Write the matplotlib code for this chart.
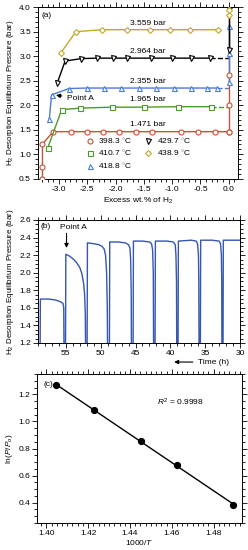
import numpy as np
import matplotlib.pyplot as plt
from matplotlib.ticker import MultipleLocator
from matplotlib.lines import Line2D

plt.rcParams['font.family'] = ['Liberation Sans', 'DejaVu Sans']
plt.rcParams['font.size'] = 6
plt.rcParams['mathtext.fontset'] = 'custom'
plt.rcParams['mathtext.rm'] = 'Liberation Sans'
plt.rcParams['mathtext.it'] = 'Liberation Sans:italic'

# ---- panel (a): isotherms ----
temps = ['398.3', '410.7', '418.8', '429.7', '438.9']
plateau_bar = ['1.471', '1.965', '2.355', '2.964', '3.559']

x_398 = [-3.29, -3.29, -3.29, -3.10, -2.79, -2.51, -2.22, -1.93, -1.63, -1.35, -0.84, -0.54, -0.25, 0.0]
y_398 = [0.50, 0.73, 1.21, 1.46, 1.46, 1.46, 1.46, 1.46, 1.46, 1.46, 1.46, 1.46, 1.46, 1.46]
x_410 = [-3.20, -2.95, -2.62, -2.07, -1.50, -0.90, -0.31]
y_410 = [1.12, 1.91, 1.94, 1.96, 1.96, 1.97, 1.97]
x_418 = [-3.17, -3.13, -2.82, -2.51, -2.21, -1.90, -1.59, -1.28, -0.97, -0.66, -0.38, -0.21]
y_418 = [1.71, 2.21, 2.34, 2.35, 2.35, 2.35, 2.35, 2.35, 2.35, 2.35, 2.35, 2.35]
x_429 = [-3.03, -2.89, -2.61, -2.33, -2.04, -1.79, -1.38, -1.00, -0.66, -0.33]
y_429 = [2.45, 2.90, 2.95, 2.96, 2.96, 2.96, 2.96, 2.96, 2.96, 2.96]
x_438 = [-2.97, -2.70, -2.24, -1.79, -1.39, -1.03, -0.68, -0.19]
y_438 = [3.06, 3.50, 3.54, 3.54, 3.54, 3.54, 3.54, 3.54]

# points at saturation (x = 0)
y0_398 = [1.46, 2.00, 2.62]
y0_418 = [2.47, 3.06, 3.62]
y0_429 = [3.13, 3.97]
y0_438 = [3.85, 3.95]

# ---- panel (b): pressure vs time ----
t_b = [58.7, 58.65, 57.5, 56.5, 55.8, 55.4, 55.3, 55.25,
       55.05, 55.0, 54.5, 54.0, 53.5, 53.0, 52.7, 52.45, 52.3, 52.2, 52.15,
       51.95, 51.9, 51.0, 50.3, 49.8, 49.5, 49.3, 49.15, 49.05, 49.0,
       48.75, 48.7, 47.5, 46.5, 46.0, 45.8, 45.7, 45.62, 45.58,
       45.35, 45.3, 44.0, 43.0, 42.7, 42.55, 42.45, 42.4,
       42.2, 42.15, 40.5, 39.6, 39.3, 39.2, 39.12, 39.08,
       38.9, 38.85, 37.0, 36.3, 36.1, 35.97, 35.92, 35.88,
       35.7, 35.65, 34.0, 33.0, 32.8, 32.68, 32.63, 32.6,
       32.45, 32.4, 31.0, 30.0]
p_b = [1.0, 1.70, 1.70, 1.69, 1.67, 1.65, 1.60, 1.0,
       1.0, 2.21, 2.19, 2.16, 2.12, 2.06, 1.99, 1.88, 1.75, 1.50, 1.0,
       1.0, 2.34, 2.33, 2.32, 2.30, 2.27, 2.20, 2.00, 1.60, 1.0,
       1.0, 2.35, 2.35, 2.34, 2.32, 2.28, 2.15, 1.80, 1.0,
       1.0, 2.36, 2.36, 2.35, 2.33, 2.26, 2.00, 1.0,
       1.0, 2.36, 2.36, 2.35, 2.32, 2.20, 1.90, 1.0,
       1.0, 2.36, 2.37, 2.36, 2.33, 2.20, 1.90, 1.0,
       1.0, 2.37, 2.37, 2.36, 2.33, 2.20, 1.90, 1.0,
       1.0, 2.37, 2.37, 2.37]

# ---- panel (c): van 't Hoff ----
inv_T = [1.4044, 1.4228, 1.4452, 1.4623, 1.4893]
ln_p = [1.2695, 1.0866, 0.8565, 0.6755, 0.3859]

c_398 = '#c2553a'
c_410 = '#4e9a2a'
c_418 = '#4a7fd0'
c_429 = 'black'
c_438 = '#c4a82c'


def style_axes(ax):
    ax.tick_params(which='both', direction='out', top=True, right=True, labelsize=6, width=0.6, pad=1.5)
    ax.tick_params(which='major', length=3.5)
    ax.tick_params(which='minor', length=2)
    for s in ax.spines.values():
        s.set_linewidth(0.7)


fig = plt.figure(figsize=(2.48, 5.5), dpi=100)

# (a)
ax = fig.add_axes([0.153, 0.675, 0.806, 0.312])
series = [(x_398, y_398, c_398, 'o'), (x_410, y_410, c_410, 's'), (x_418, y_418, c_418, '^'),
          (x_429, y_429, c_429, 'v'), (x_438, y_438, c_438, 'D')]
for xs, ys, col, mk in series:
    ax.plot(xs, ys, '-', color=col, lw=1.0, marker=mk, ms=3.6 if mk != 'D' else 3.0,
            mfc='white', mec=col, mew=0.8, zorder=3)
# dashed extensions to x = 0
ax.plot([x_410[-1], 0], [y_410[-1], y_410[-1]], '--', color=c_410, lw=1.0, zorder=2)
ax.plot([x_418[-1], 0], [y_418[-1], y_418[-1]], '--', color=c_418, lw=1.0, zorder=2)
ax.plot([x_429[-1], 0], [y_429[-1], y_429[-1]], '--', color=c_429, lw=1.0, zorder=2)
# saturation points
ax.plot(np.zeros(len(y0_418)), y0_418, '-', color=c_418, lw=1.0, marker='^', ms=3.6, mfc='white', mec=c_418, mew=0.8, zorder=3)
ax.plot(np.zeros(len(y0_429)), y0_429, '-', color=c_429, lw=1.0, marker='v', ms=3.6, mfc='white', mec=c_429, mew=0.8, zorder=3)
ax.plot(np.zeros(len(y0_438)), y0_438, '-', color=c_438, lw=1.0, marker='D', ms=3.0, mfc='white', mec=c_438, mew=0.8, zorder=3)
ax.plot([0, 0], [y0_398[0], 4.0], '-', color=c_398, lw=1.0, zorder=2)
ax.plot(np.zeros(len(y0_398)), y0_398, 'o', ms=3.6, mfc='white', mec=c_398, mew=0.8, zorder=4)

label_y = [1.60, 2.11, 2.48, 3.10, 3.67]
label_x = [-1.43, -1.43, -1.43, -1.43, -1.43]
for lx, ly, txt in zip(label_x, label_y, plateau_bar):
    ax.text(lx, ly, txt + ' bar', ha='center', va='center', fontsize=6)

ax.annotate('Point A', xy=(-3.10, 2.21), xytext=(-2.85, 2.14), fontsize=6, va='center',
            arrowprops=dict(arrowstyle='-|>', color='black', lw=0.8, mutation_scale=6))
ax.text(-3.30, 3.83, '(a)', fontsize=6, va='center')

handles = [Line2D([], [], ls='none', marker=mk, ms=3.6 if mk != 'D' else 3.0, mfc='white', mec=col, mew=0.8)
           for _, _, col, mk in series]
labels = [t + r' $^{\circ}$C' for t in temps]
ax.legend(handles, labels, ncol=2, frameon=False, fontsize=6, loc='upper left',
          bbox_to_anchor=(0.24, 0.245), handlelength=1.0, handletextpad=0.5, columnspacing=1.4,
          labelspacing=0.3, borderaxespad=0, borderpad=0)

ax.set_xlim(-3.37, 0.16)
ax.set_ylim(0.5, 4.0)
ax.xaxis.set_major_locator(MultipleLocator(0.5))
ax.xaxis.set_minor_locator(MultipleLocator(0.1))
ax.yaxis.set_major_locator(MultipleLocator(0.5))
ax.yaxis.set_minor_locator(MultipleLocator(0.1))
ax.xaxis.set_major_formatter(plt.FormatStrFormatter('%.1f'))
ax.set_xlabel('Excess wt.% of H$_2$', fontsize=6, labelpad=2)
ax.set_ylabel('H$_2$ Desorption Equilibrium Pressure (bar)', fontsize=5.8, labelpad=2)
style_axes(ax)

# (b)
bx = fig.add_axes([0.153, 0.3764, 0.815, 0.2236])
bx.plot(t_b, p_b, '-', color='#3656b0', lw=1.0)
bx.set_xlim(59, 30)
bx.set_ylim(1.2, 2.6)
bx.xaxis.set_major_locator(MultipleLocator(5))
bx.xaxis.set_minor_locator(MultipleLocator(1))
bx.yaxis.set_major_locator(MultipleLocator(0.2))
bx.yaxis.set_minor_locator(MultipleLocator(0.05))
bx.set_ylabel('H$_2$ Desorption Equilibrium Pressure (bar)', fontsize=5.8, labelpad=2)
bx.text(58.6, 2.53, '(b)', fontsize=6, va='center')
bx.text(53.9, 2.52, 'Point A', fontsize=6, ha='center', va='center')
bx.annotate('', xy=(54.9, 2.25), xytext=(54.9, 2.48),
            arrowprops=dict(arrowstyle='-|>', color='black', lw=0.8, mutation_scale=6))
bx.annotate('', xy=(0.66, -0.155), xytext=(0.78, -0.155), xycoords='axes fraction',
            textcoords='axes fraction',
            arrowprops=dict(arrowstyle='-|>', color='black', lw=0.8, mutation_scale=6))
bx.text(0.79, -0.155, 'Time (h)', transform=bx.transAxes, fontsize=6, va='center')
style_axes(bx)

# (c)
cx = fig.add_axes([0.149, 0.049, 0.827, 0.271])
fit = np.polyfit(inv_T, ln_p, 1)
xf = np.array([min(inv_T), max(inv_T)])
cx.plot(xf, np.polyval(fit, xf), '-', color='black', lw=1.0)
cx.plot(inv_T, ln_p, 'o', color='black', ms=4.2)
cx.set_xlim(1.3955, 1.4936)
cx.set_ylim(0.25, 1.35)
cx.xaxis.set_major_locator(MultipleLocator(0.02))
cx.xaxis.set_minor_locator(MultipleLocator(0.0025))
cx.yaxis.set_major_locator(MultipleLocator(0.2))
cx.yaxis.set_minor_locator(MultipleLocator(0.05))
cx.xaxis.set_major_formatter(plt.FormatStrFormatter('%.2f'))
cx.text(1.3985, 1.27, '(c)', fontsize=6, va='center')
cx.text(1.4528, 1.143, '$R^2$ = 0.9998', fontsize=6, va='center')
cx.set_xlabel('1000/$T$', fontsize=6, labelpad=1)
cx.set_ylabel('ln($P$/$P_o$)', fontsize=6, labelpad=2)
style_axes(cx)

fig.savefig('out.png', dpi=100)
